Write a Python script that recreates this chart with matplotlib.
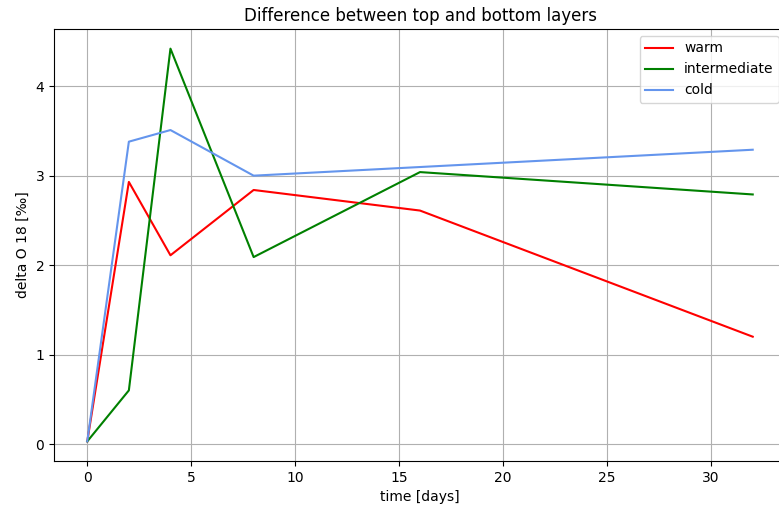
import numpy as np
import matplotlib.pyplot as plt

days = [0, 2, 4, 8, 16, 32]
warm = [0.03, 2.93, 2.11, 2.84, 2.61, 1.20]
intermediate = [0.03, 0.60, 4.42, 2.09, 3.04, 2.79]
cold_days = [0, 2, 4, 8, 32]
cold = [0.03, 3.38, 3.51, 3.00, 3.29]

fig = plt.figure(figsize=(7.79, 5.08), dpi=100)
ax = fig.add_axes([54/779, 47/508, 732/779, 432/508])

ax.plot(days, warm, color='red', label='warm')
ax.plot(days, intermediate, color='green', label='intermediate')
ax.plot(cold_days, cold, color='cornflowerblue', label='cold')

ax.set_title('Difference between top and bottom layers')
ax.set_xlabel('time [days]')
ax.set_ylabel('delta O 18 [‰]')
ax.grid(True)
ax.legend(loc='upper right')

fig.savefig('out.png', dpi=100)
